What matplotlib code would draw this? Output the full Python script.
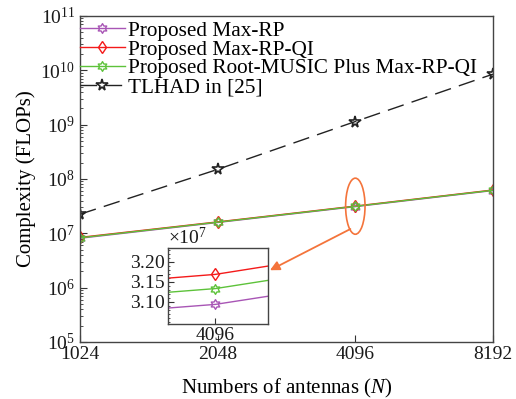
import numpy as np
import matplotlib
matplotlib.use("Agg")
import matplotlib.pyplot as plt
from matplotlib.path import Path
from matplotlib.patches import Ellipse
from matplotlib.ticker import ScalarFormatter, LogLocator, NullFormatter, FixedLocator

plt.rcParams['font.family'] = ['Liberation Serif', 'DejaVu Serif']
plt.rcParams['mathtext.fontset'] = 'custom'
plt.rcParams['mathtext.rm'] = 'Liberation Serif'
plt.rcParams['mathtext.it'] = 'Liberation Serif:italic'

# number of antennas
N = [1024, 2048, 4096, 8192]

# complexity in FLOPs
max_rp = [8.1e6, 1.58e7, 3.094e7, 6.12e7]
max_rp_qi = [8.4e6, 1.62e7, 3.169e7, 6.26e7]
root_music_qi = [8.25e6, 1.60e7, 3.1335e7, 6.19e7]
tlhad = [2.24e7, 1.5e8, 1.14e9, 8.5e9]

labels = ["Proposed Max-RP", "Proposed Max-RP-QI",
          "Proposed Root-MUSIC Plus Max-RP-QI", "TLHAD in [25]"]

c_purple = "#A855B5"
c_red = "#F41A1A"
c_green = "#5DC23A"
c_orange = "#F4743B"

# six-pointed star like matlab's hexagram
ang = np.pi / 2 + np.arange(12) * np.pi / 6
rad = np.where(np.arange(12) % 2 == 0, 1.0, 0.58)
hexv = np.column_stack([rad * np.cos(ang), rad * np.sin(ang)])
hexv = np.vstack([hexv, hexv[0]])
hexagram = Path(hexv, closed=True)


def draw_lines(ax):
    ax.plot(N, max_rp, color=c_purple, lw=1.0, marker=hexagram, ms=7,
            mfc="none", mec=c_purple, mew=1.0, label=labels[0])
    ax.plot(N, max_rp_qi, color=c_red, lw=1.0, marker="d", ms=6.5,
            mfc="none", mec=c_red, mew=1.0, label=labels[1])
    ax.plot(N, root_music_qi, color=c_green, lw=1.0, marker=hexagram, ms=7,
            mfc="none", mec=c_green, mew=1.0, label=labels[2])


def style_spines(ax):
    for s in ax.spines.values():
        s.set_color("#444444")
        s.set_linewidth(1.0)


fig = plt.figure(figsize=(5.16, 3.99), dpi=100)
ax = fig.add_axes([0.155, 0.143, 0.8004, 0.817])

draw_lines(ax)
ax.plot(N, tlhad, color="#222222", lw=1.0, ls=(0, (12, 6)), marker="*", ms=8.5,
        mfc="none", mec="#222222", mew=1.2, label=labels[3])

ax.set_xscale("log", base=2)
ax.set_yscale("log")
ax.set_xlim(1024, 8192)
ax.set_ylim(1e5, 1e11)
ax.set_xticks(N)
ax.set_xticklabels([str(n) for n in N])
ax.xaxis.set_minor_locator(FixedLocator([]))
ax.yaxis.set_major_locator(LogLocator(base=10, numticks=10))
ax.yaxis.set_minor_locator(LogLocator(base=10, subs=np.arange(2, 10), numticks=10))
ax.yaxis.set_minor_formatter(NullFormatter())
ax.tick_params(axis="both", which="both", direction="in", labelsize=14,
               top=False, right=False, colors="#333333", labelcolor="#1a1a1a")
ax.tick_params(which="major", length=5)
ax.tick_params(which="minor", length=2.5)
ax.tick_params(axis="x", pad=3)
style_spines(ax)

ax.set_xlabel(r"Numbers of antennas ($\mathit{N}$)", fontsize=15, labelpad=10)
ax.set_ylabel("Complexity (FLOPs)", fontsize=15, labelpad=3)

leg = ax.legend(loc="upper left", bbox_to_anchor=(0.0, 0.985), fontsize=15.3,
                frameon=False, handlelength=2.1, handletextpad=0.15,
                labelspacing=-0.05, borderaxespad=0.0, borderpad=0.0)

# ellipse around the 4096 point, placed in axes fraction so it stays an ellipse
xf = (np.log2(4096) - 10) / 3
yf = (np.log10(3.15e7) - 5) / 6
ax.add_patch(Ellipse((xf, yf), width=0.047, height=0.172, transform=ax.transAxes,
                     fill=False, ec=c_orange, lw=1.2, zorder=5))
ax.annotate("", xy=(0.46, 0.22), xycoords="axes fraction",
            xytext=(xf - 0.012, yf - 0.07), textcoords="axes fraction",
            arrowprops=dict(arrowstyle="-|>", color=c_orange, lw=1.3,
                            mutation_scale=14, shrinkA=0, shrinkB=0))

# zoomed inset around N = 4096
axin = fig.add_axes([0.3262, 0.188, 0.1926, 0.1905])
draw_lines(axin)
axin.set_xscale("log", base=2)
axin.set_xlim(4079, 4115)
axin.set_ylim(3.045e7, 3.235e7)
axin.set_xticks([4096])
axin.set_xticklabels(["4096"])
axin.xaxis.set_minor_locator(FixedLocator([]))
axin.set_yticks([3.10e7, 3.15e7, 3.20e7])
fmt = ScalarFormatter(useMathText=True)
fmt.set_powerlimits((0, 0))
axin.yaxis.set_major_formatter(fmt)
axin.yaxis.set_minor_locator(FixedLocator(np.arange(3.05e7, 3.235e7, 0.01e7)))
axin.tick_params(axis="both", which="both", direction="in", labelsize=14,
                 top=False, right=False, pad=2, colors="#333333",
                 labelcolor="#1a1a1a")
axin.tick_params(which="major", length=4)
axin.tick_params(which="minor", length=1.5)
axin.yaxis.get_offset_text().set_fontsize(14)
style_spines(axin)

fig.savefig("out.png", dpi=100)
